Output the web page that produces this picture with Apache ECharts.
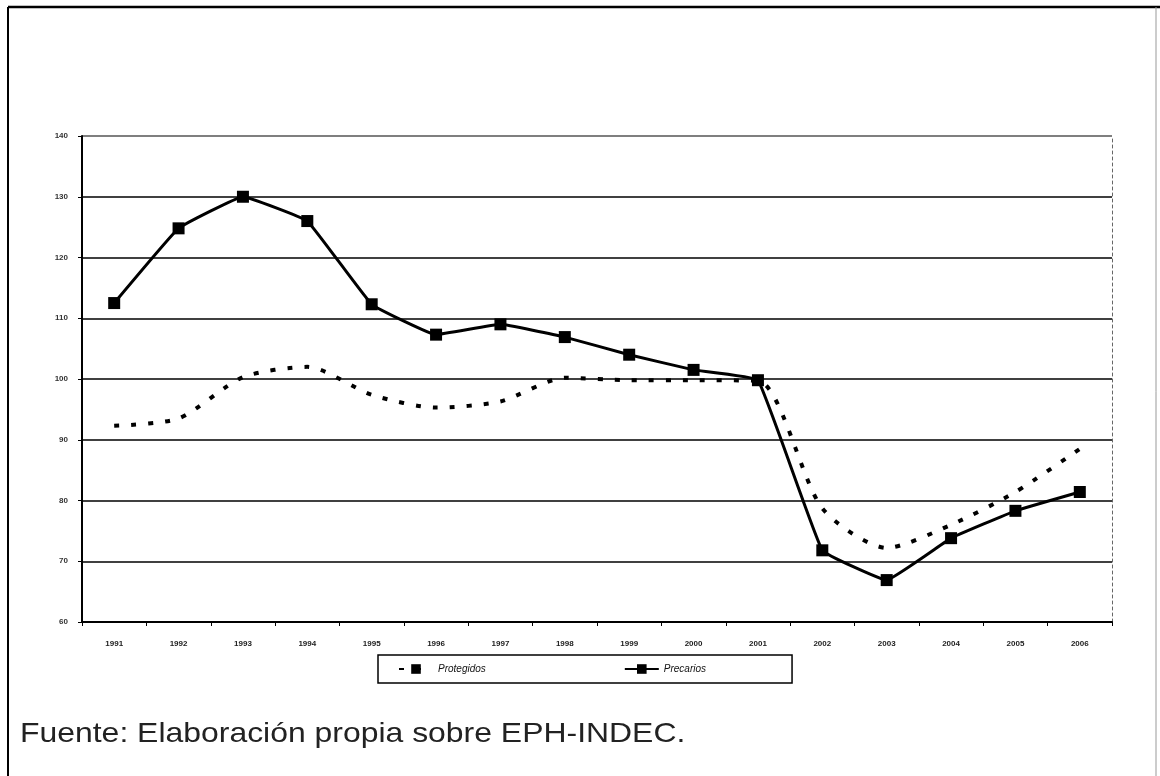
<!DOCTYPE html>
<html>
<head>
<meta charset="utf-8">
<script src="https://cdn.jsdelivr.net/npm/echarts@6/dist/echarts.min.js"></script>
<style>
html,body{margin:0;padding:0;background:#fff;}
#c{width:1160px;height:776px;}
</style>
</head>
<body>
<div id="c"></div>
<script>
var years = ['1991','1992','1993','1994','1995','1996','1997','1998','1999','2000','2001','2002','2003','2004','2005','2006'];
var protegidos = [92.3, 93.5, 100.3, 102.0, 97.4, 95.3, 96.3, 100.2, 99.8, 99.8, 99.7, 78.7, 72.2, 76.0, 81.4, 88.5];
var precarios = [112.5, 124.8, 130.0, 126.0, 112.3, 107.3, 109.0, 106.9, 104.0, 101.5, 99.8, 71.8, 66.9, 73.8, 78.3, 81.4];
var yMin = 60, yMax = 140, yStep = 10;
var sourceText = 'Fuente: Elaboración propia sobre EPH-INDEC.';

var chart = echarts.init(document.getElementById('c'), null, {renderer:'canvas'});
chart.setOption({
  backgroundColor:'#fff',
  animation:false,
  textStyle:{fontFamily:'Liberation Sans, Arial, sans-serif'},
  grid:{left:82, right:48, top:136, bottom:154},
  legend:{
    left:378, top:655,
    padding:[9,86,9,20],
    borderColor:'#000', borderWidth:1.5,
    itemWidth:34, itemHeight:12, itemGap:138,
    textStyle:{fontSize:10, fontStyle:'italic', color:'#111'},
    data:['Protegidos','Precarios']
  },
  xAxis:{
    type:'category', data:years, boundaryGap:true,
    axisLine:{lineStyle:{color:'#000', width:2}},
    axisTick:{show:true, length:4, lineStyle:{color:'#000'}},
    axisLabel:{fontSize:8, color:'#222', margin:18, fontWeight:'bold'}
  },
  yAxis:[{
    type:'value', min:yMin, max:yMax, interval:yStep,
    axisLine:{show:true, lineStyle:{color:'#000', width:2}},
    axisTick:{show:true, length:4, lineStyle:{color:'#000'}},
    axisLabel:{fontSize:8, color:'#333', margin:14, fontWeight:'bold'},
    splitLine:{show:true, lineStyle:{color:['#000','#000','#000','#000','#000','#000','#000','#000','#555'], width:1.6}}
  },{
    type:'value', min:yMin, max:yMax, interval:yStep, position:'right',
    axisLine:{show:true, lineStyle:{color:'#666', width:1, type:[3,3]}},
    axisTick:{show:false}, axisLabel:{show:false}, splitLine:{show:false}
  }],
  series:[{
    name:'Protegidos', type:'line', data:protegidos, smooth:0.25,
    showSymbol:false, symbol:'rect', symbolSize:6,
    itemStyle:{color:'#000'},
    lineStyle:{color:'#000', width:4, type:[5,12]}
  },{
    name:'Precarios', type:'line', data:precarios, smooth:0.08,
    symbol:'rect', symbolSize:12,
    itemStyle:{color:'#000'},
    lineStyle:{color:'#000', width:3}
  }],
  graphic:[
    {type:'line', shape:{x1:8, y1:7, x2:1160, y2:7}, style:{stroke:'#000', lineWidth:2.5}},
    {type:'line', shape:{x1:8, y1:7, x2:8, y2:776}, style:{stroke:'#000', lineWidth:2}},
    {type:'line', shape:{x1:1156, y1:7, x2:1156, y2:776}, style:{stroke:'#999', lineWidth:1}},
    {type:'text', x:20, y:720, scaleX:1.14, scaleY:1, style:{text:sourceText, font:'28px "Liberation Sans", Arial, sans-serif', fill:'#222'}}
  ]
});
</script>
</body>
</html>
